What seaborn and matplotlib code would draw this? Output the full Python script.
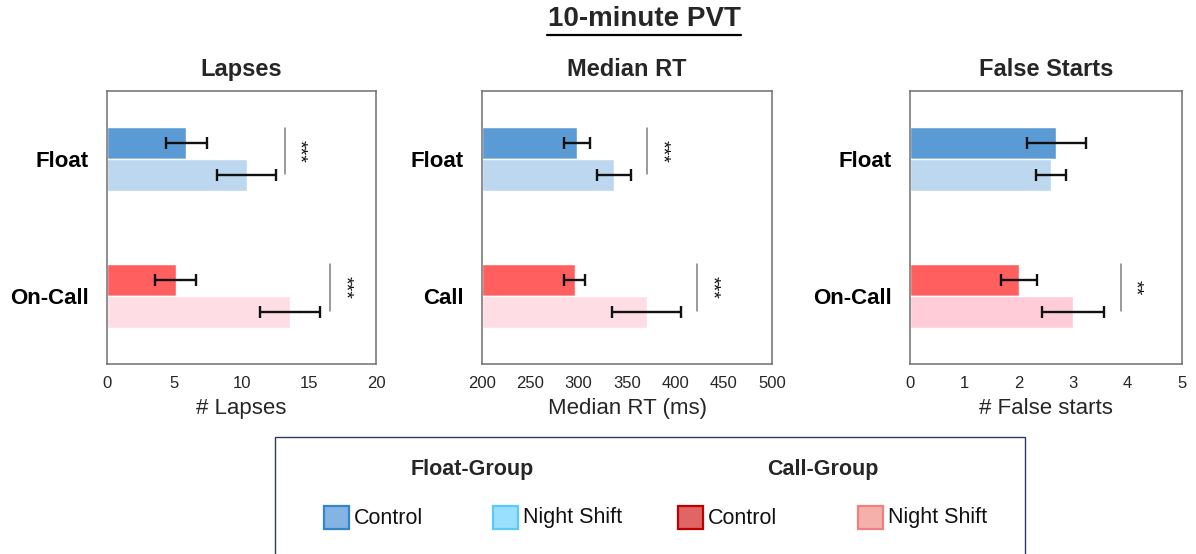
import matplotlib
matplotlib.use("Agg")
import matplotlib.pyplot as plt
import seaborn as sns
import pandas as pd
from matplotlib.patches import Rectangle
from matplotlib.lines import Line2D

# ---------------- data ----------------
conditions = ["Control", "Night Shift"]

lapses_labels = ["Float", "On-Call"]
lapses_float = [5.9, 10.4]
lapses_float_err = [1.55, 2.2]
lapses_call = [5.1, 13.6]
lapses_call_err = [1.5, 2.25]

rt_labels = ["Float", "Call"]
rt_float = [298.5, 337.0]
rt_float_err = [13.3, 17.6]
rt_call = [295.7, 370.3]
rt_call_err = [11.0, 35.7]

fs_labels = ["Float", "On-Call"]
fs_float = [2.69, 2.59]
fs_float_err = [0.545, 0.275]
fs_call = [2.0, 3.0]
fs_call_err = [0.33, 0.565]

# significance: (row index, x of bracket line, stars)
lapses_sig = [(0, 13.2, "***"), (1, 16.6, "***")]
rt_sig = [(0, 370.3, "***"), (1, 422.0, "***")]
fs_sig = [(1, 3.87, "**")]

lapses_ticks = [0, 5, 10, 15, 20]
rt_ticks = [200, 250, 300, 350, 400, 450, 500]
fs_ticks = [0, 1, 2, 3, 4, 5]

legend_groups = ["Float-Group", "Call-Group"]
legend_labels = ["Control", "Night Shift", "Control", "Night Shift"]

# ---------------- style ----------------
sns.set_theme(style="white")
plt.rcParams["font.family"] = ["Liberation Sans", "DejaVu Sans"]

FLOAT_COLORS = ["#5B9BD5", "#BDD7EE"]
CALL_COLORS_A = ["#FF5F5F", "#FFDDE5"]
CALL_COLORS_B = ["#FF5F5F", "#FFCCD8"]

fig = plt.figure(figsize=(11.96, 5.54), dpi=100)

W, H = 1196.0, 554.0
def axrect(x0, x1, y0=91, y1=364):
    return [x0 / W, 1 - y1 / H, (x1 - x0) / W, (y1 - y0) / H]

panels = [
    dict(rect=axrect(107, 376), labels=lapses_labels, fl=lapses_float, fle=lapses_float_err,
         cl=lapses_call, cle=lapses_call_err, sig=lapses_sig, ticks=lapses_ticks,
         xlim=(0, 20), title="Lapses", xlabel="# Lapses", ccols=CALL_COLORS_A),
    dict(rect=axrect(482, 772), labels=rt_labels, fl=rt_float, fle=rt_float_err,
         cl=rt_call, cle=rt_call_err, sig=rt_sig, ticks=rt_ticks,
         xlim=(200, 500), title="Median RT", xlabel="Median RT (ms)", ccols=CALL_COLORS_A),
    dict(rect=axrect(910, 1182), labels=fs_labels, fl=fs_float, fle=fs_float_err,
         cl=fs_call, cle=fs_call_err, sig=fs_sig, ticks=fs_ticks,
         xlim=(0, 5), title="False Starts", xlabel="# False starts", ccols=CALL_COLORS_B),
]

BAR_W = 0.47
for p in panels:
    ax = fig.add_axes(p["rect"])
    labs = p["labels"]
    df_f = pd.DataFrame({"group": [labs[0]] * 2, "cond": conditions, "val": p["fl"]})
    df_c = pd.DataFrame({"group": [labs[1]] * 2, "cond": conditions, "val": p["cl"]})
    base = p["xlim"][0]
    df_f["len"] = df_f["val"] - base
    df_c["len"] = df_c["val"] - base
    sns.barplot(data=df_f, y="group", x="len", hue="cond", order=labs, hue_order=conditions,
                palette=FLOAT_COLORS, saturation=1, width=BAR_W, errorbar=None,
                orient="h", legend=False, ax=ax, left=base)
    sns.barplot(data=df_c, y="group", x="len", hue="cond", order=labs, hue_order=conditions,
                palette=p["ccols"], saturation=1, width=BAR_W, errorbar=None,
                orient="h", legend=False, ax=ax, left=base)
    off = BAR_W / 4
    for gi, (vals, errs) in enumerate([(p["fl"], p["fle"]), (p["cl"], p["cle"])]):
        for ci in range(2):
            yy = gi + (-off if ci == 0 else off)
            ax.errorbar(vals[ci], yy, xerr=errs[ci], fmt="none", ecolor="#111111",
                        elinewidth=1.7, capsize=4, capthick=1.7, zorder=5)
    span = p["xlim"][1] - p["xlim"][0]
    for gi, xs, stars in p["sig"]:
        ax.plot([xs, xs], [gi - 0.23, gi + 0.11], color="#7F7F7F", lw=1.1, zorder=4)
        ax.text(xs + span * 0.052, gi - 0.06, stars, rotation=-90, ha="center", va="center",
                fontsize=14, color="#111111")
    ax.set_xlim(*p["xlim"])
    ax.set_ylim(1.5, -0.5)
    ax.set_xticks(p["ticks"])
    ax.set_xticklabels([str(t) for t in p["ticks"]], fontsize=12, color="#262626")
    ax.set_yticks([0, 1])
    ax.set_yticklabels(labs, fontsize=16, fontweight="bold", color="black")
    ax.tick_params(axis="x", length=0, pad=9)
    ax.tick_params(axis="y", length=0, pad=13)
    ax.set_ylabel("")
    ax.set_xlabel(p["xlabel"], fontsize=16, color="#262626", labelpad=5)
    ax.set_title(p["title"], fontsize=17, fontweight="bold", pad=11)
    for s in ax.spines.values():
        s.set_color("#6F6F6F")
        s.set_linewidth(1.1)
        s.set_visible(True)

# main title (underlined)
fig.text(644 / W, 1 - 19 / H, "10-minute PVT", ha="center", va="center",
         fontsize=20, fontweight="bold")
fig.add_artist(Line2D([547 / W, 741 / W], [1 - 34.5 / H, 1 - 34.5 / H], color="black", lw=1.6))

# legend box
fig.add_artist(Rectangle((275 / W, -0.01), (1025 - 275) / W, 0.01 + (554 - 437) / H,
                         transform=fig.transFigure, facecolor="white",
                         edgecolor="#2E3A66", lw=1.0))
fig.text(472 / W, 1 - 469 / H, legend_groups[0], ha="center", va="center", fontsize=15.5,
         fontweight="bold")
fig.text(823 / W, 1 - 469 / H, legend_groups[1], ha="center", va="center", fontsize=15.5,
         fontweight="bold")

legend_style = [
    (324, "#84B4E4", "#3584D0"),
    (493, "#99E0FF", "#5BCBF5"),
    (678, "#E06666", "#C00000"),
    (858, "#F4B0AA", "#F08080"),
]
for (x0, fc, ec), lab in zip(legend_style, legend_labels):
    fig.add_artist(Rectangle((x0 / W, 1 - 529 / H), 25 / W, 23 / H, transform=fig.transFigure,
                             facecolor=fc, edgecolor=ec, lw=1.6))
    fig.text((x0 + 30) / W, 1 - 518 / H, lab, ha="left", va="center", fontsize=15.5,
             color="#111111")

fig.savefig("out.png", dpi=100)
